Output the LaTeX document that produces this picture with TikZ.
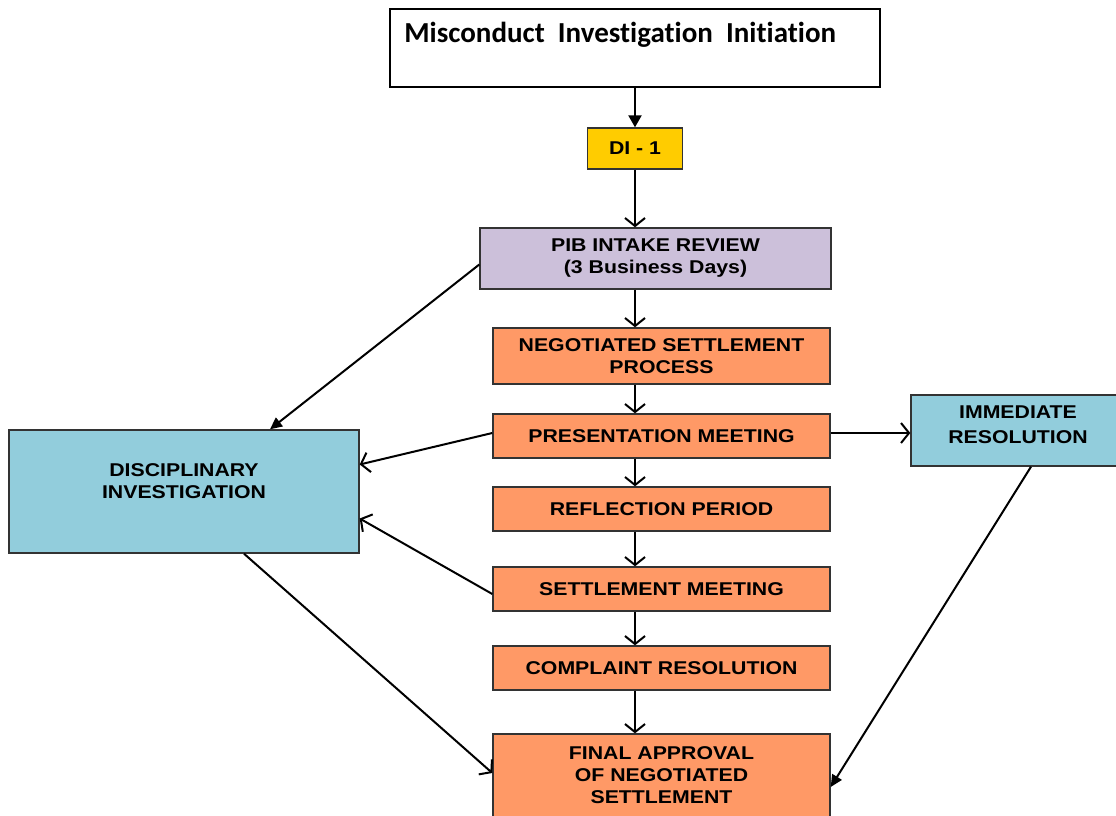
\documentclass[tikz,border=0pt]{standalone}
\usepackage{fontspec}
\setmainfont{Liberation Sans}[FakeStretch=1.15]
\newfontfamily\titlefont{Carlito}[Ligatures=NoCommon]
\usetikzlibrary{arrows.meta}

\definecolor{diyellow}{HTML}{FFCC00}
\definecolor{piblilac}{HTML}{CCC0DA}
\definecolor{stepfill}{HTML}{FF9966}
\definecolor{sideblue}{HTML}{92CDDC}

\begin{document}
\begin{tikzpicture}[x=1pt,y=-1pt,
  every node/.style={font=\bfseries\fontsize{18.5}{22}\selectfont, align=center, inner sep=0pt},
  box/.style={draw=black!80, line width=1.4pt, rectangle},
  stepbox/.style={box, fill=stepfill, minimum width=337pt, minimum height=44pt},
  sidebox/.style={box, fill=sideblue},
  link/.style={line width=2pt, -{Straight Barb[length=8pt,width=20pt,line width=2pt]}},
  push/.style={line width=2.2pt, -{Triangle[length=12pt,width=13pt]}}]
\useasboundingbox (0,0) rectangle (1116,816);
% main column
\node [box, draw=black, line width=1.8pt, minimum width=490pt, minimum height=78pt] (init) at (635,48) {};
\node [anchor=base west, font=\titlefont\bfseries\fontsize{29}{32}\selectfont] (inittext) at ([xshift=15pt,yshift=-34pt]init.north west) {Misconduct\ \ Investigation\ \ Initiation};
\node [box, fill=diyellow, minimum width=95pt, minimum height=41pt] (di) at (635,148.5) {DI - 1};
\node [box, fill=piblilac, minimum width=351pt, minimum height=61pt] (pib) at (655.5,258.5) {PIB INTAKE REVIEW\\(3 Business Days)};
\node [stepbox, minimum height=56pt] (nsp) at (661.5,356) {NEGOTIATED SETTLEMENT\\PROCESS};
\node [stepbox] (pres) at (661.5,436) {PRESENTATION MEETING};
\node [stepbox] (refl) at (661.5,509) {REFLECTION PERIOD};
\node [stepbox] (settle) at (661.5,589) {SETTLEMENT MEETING};
\node [stepbox] (compl) at (661.5,668) {COMPLAINT RESOLUTION};
\node [stepbox, minimum height=92pt,
  label={[yshift=5pt]center:FINAL APPROVAL\\OF NEGOTIATED\\SETTLEMENT}] (final) at (661.5,780) {};
% side boxes
\node [sidebox, minimum width=350pt, minimum height=123pt,
  label={[yshift=10pt]center:DISCIPLINARY\\INVESTIGATION}] (disc) at (184,491.5) {};
\node [sidebox, minimum width=214pt, minimum height=71pt,
  label={[yshift=6pt,font=\bfseries\fontsize{18.5}{25}\selectfont]center:IMMEDIATE\\RESOLUTION}] (imm) at (1018,430.5) {};
% connectors
\draw [push] (init.south) -- (di.north);
\draw [link] (di.south) -- (di.south |- pib.north);
\draw [link] (pib.south -| di) -- (nsp.north -| di);
\draw [link] (nsp.south -| di) -- (pres.north -| di);
\draw [link] (pres.south -| di) -- (refl.north -| di);
\draw [link] (refl.south -| di) -- (settle.north -| di);
\draw [link] (settle.south -| di) -- (compl.north -| di);
\draw [link] (compl.south -| di) -- (final.north -| di);
\draw [push, line width=2pt, -{Triangle[length=12pt,width=11pt]}] ([yshift=-6pt]pib.west) -- ([xshift=86pt]disc.north);
\draw [link] ([yshift=3pt]pres.west) -- ([yshift=27pt]disc.east);
\draw [link] ([yshift=-5pt]settle.west) -- ([yshift=-27pt]disc.east);
\draw [link] ([yshift=3pt]pres.east) -- ([yshift=3pt]pres.east -| imm.west);
\draw [link] ([xshift=60pt]disc.south) -- ([yshift=7pt]final.west);
\draw [push, line width=2pt, -{Triangle[length=12pt,width=11pt]}] ([xshift=13pt]imm.south) -- ([yshift=-7pt]final.east);
\end{tikzpicture}
\end{document}
